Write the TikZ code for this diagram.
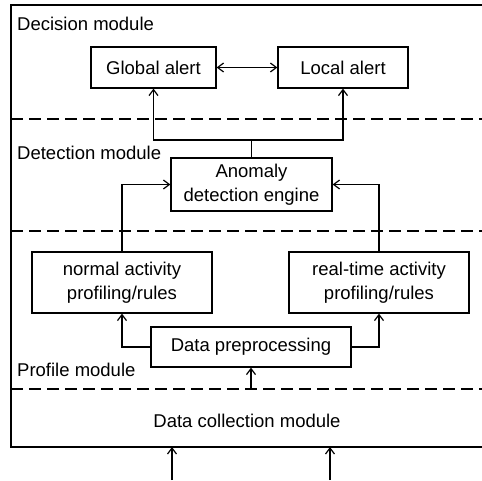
\documentclass[tikz,border=0pt]{standalone}
\usepackage{fontspec}
\setmainfont{Liberation Sans}
\usetikzlibrary{arrows.meta}
\begin{document}
\begin{tikzpicture}[x=1pt,y=-1pt,
  box/.style={draw,line width=1.3pt,inner sep=0pt,align=center,font=\fontsize{18.5}{23.5}\selectfont},
  lbl/.style={inner sep=0pt,anchor=west,font=\fontsize{18.5}{22}\selectfont},
  conn/.style={line width=1.2pt},
  arr/.style={conn,-{Straight Barb[length=6pt,width=9pt,line width=1.2pt]}},
  arrtwo/.style={conn,{Straight Barb[length=6pt,width=9pt,line width=1.2pt]}-{Straight Barb[length=6pt,width=9pt,line width=1.2pt]}},
  sep/.style={line width=2.8pt,dash pattern=on 12pt off 6pt}]
\clip (0,0) rectangle (482,480);
\useasboundingbox (0,0) rectangle (482,480);
% frame
\draw[line width=1.3pt] (500,5) -- (11,5) -- (11,447) -- (500,447);
% separators
\draw[sep] (11,119) -- (490,119);
\draw[sep] (11,231) -- (490,231);
\draw[sep] (11,389) -- (490,389);
% module labels
\node[lbl] (decm) at (17,24) {Decision module};
\node[lbl] (detm) at (17,153) {Detection module};
\node[lbl] (prfm) at (17,370) {Profile module};
\node[inner sep=0pt,font=\fontsize{18.5}{22}\selectfont] (dcm) at (247,421) {Data collection module};
% boxes
\node[box,minimum width=125pt,minimum height=41pt] (g) at (153.5,67.5) {Global alert};
\node[box,minimum width=130pt,minimum height=41pt] (l) at (343,67.5) {Local alert};
\node[box,minimum width=161pt,minimum height=53pt] (ade) at (251.5,184.5) {Anomaly\\detection engine};
\node[box,minimum width=180pt,minimum height=61pt] (nap) at (122,282.5) {normal activity\\profiling/rules};
\node[box,minimum width=180pt,minimum height=61pt] (rap) at (379,282.5) {real-time activity\\profiling/rules};
\node[box,minimum width=200pt,minimum height=40pt] (dp) at (251,347) {Data preprocessing};
% connectors
\draw[arrtwo] (g.east) -- (l.west);
\coordinate (j) at (251.5,140);
\draw[conn] (ade.north) -- (j);
\draw[arr] (j) -| (g.south);
\draw[arr] (j) -| (l.south);
\draw[arr] (nap.north) |- (ade.west);
\draw[arr] (rap.north) |- (ade.east);
\draw[arr] (dp.west) -| (nap.south);
\draw[arr] (dp.east) -| (rap.south);
\coordinate (din) at (251,389);
\draw[arr] (din) -- (dp.south);
\coordinate (ina) at (172,480);
\coordinate (inat) at (172,447);
\coordinate (inb) at (330,480);
\coordinate (inbt) at (330,447);
\draw[arr] (ina) -- (inat);
\draw[arr] (inb) -- (inbt);
\end{tikzpicture}
\end{document}
